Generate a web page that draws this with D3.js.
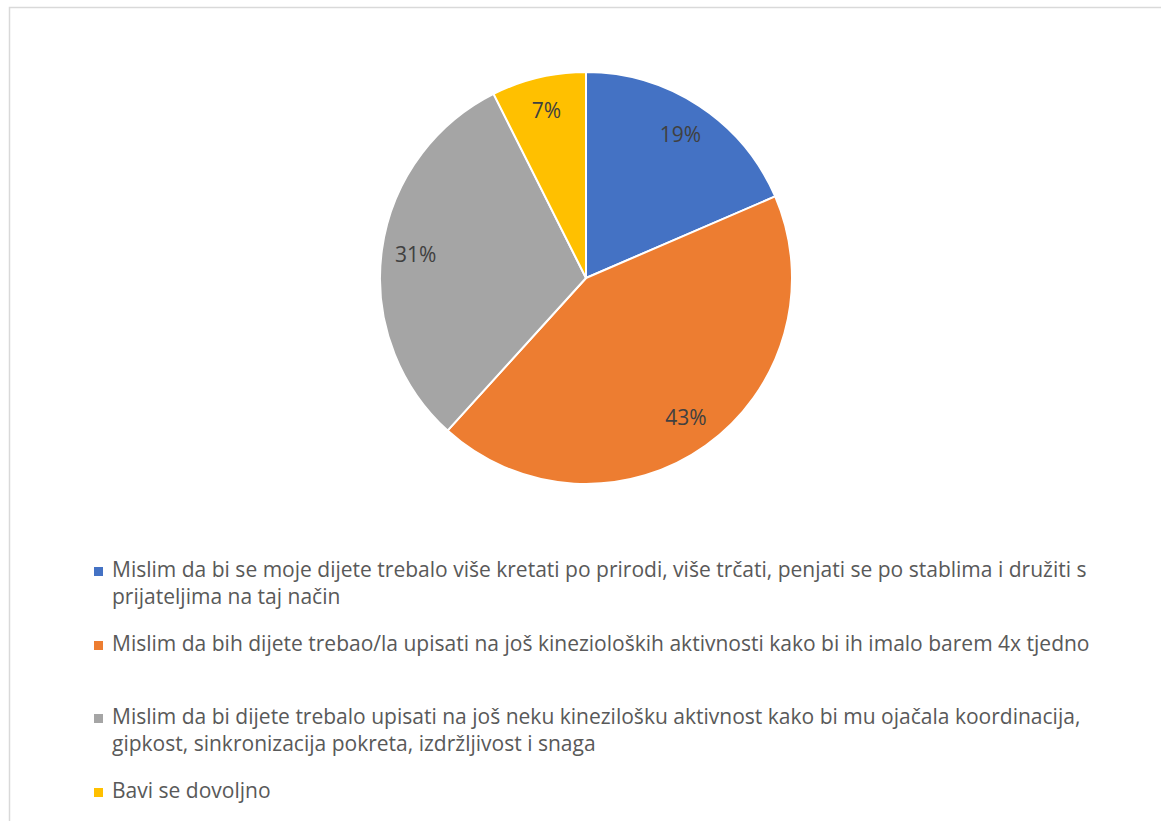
<!DOCTYPE html>
<html>
<head>
<meta charset="utf-8">
<script src="https://cdn.jsdelivr.net/npm/d3@7"></script>
<style>
  body { margin: 0; background: #fff; }
  text { font-family: "Open Sans", Lato, sans-serif; }
</style>
</head>
<body>
<div id="chart-area"></div>
<script>
// Data
// ****
const categories = [
  "Mislim da bi se moje dijete trebalo više kretati po prirodi, više trčati, penjati se po stablima i družiti s prijateljima na taj način",
  "Mislim da bih dijete trebao/la upisati na još kinezioloških aktivnosti kako bi ih imalo barem 4x tjedno",
  "Mislim da bi dijete trebalo upisati na još neku kinezilošku aktivnost kako bi mu ojačala koordinacija, gipkost, sinkronizacija pokreta, izdržljivost i snaga",
  "Bavi se dovoljno"
]
// legend rows as wrapped in the picture
const legendLines = [
  ["Mislim da bi se moje dijete trebalo više kretati po prirodi, više trčati, penjati se po stablima i družiti s", "prijateljima na taj način"],
  ["Mislim da bih dijete trebao/la upisati na još kinezioloških aktivnosti kako bi ih imalo barem 4x tjedno"],
  ["Mislim da bi dijete trebalo upisati na još neku kinezilošku aktivnost kako bi mu ojačala koordinacija,", "gipkost, sinkronizacija pokreta, izdržljivost i snaga"],
  ["Bavi se dovoljno"]
]
const values = [15, 35, 25, 6]
const colors = ["#4472c4", "#ed7d31", "#a5a5a5", "#ffc000"]

// Config
// ******
const width = 1161, height = 821
const cx = 586, cy = 278, radius = 206

const svg = d3.select("#chart-area")
  .append("svg")
    .attr("width", width)
    .attr("height", height)

// chart frame (runs off the right and bottom edges)
svg.append("rect")
  .attr("x", 9.5).attr("y", 7.5)
  .attr("width", width + 20).attr("height", height + 20)
  .attr("fill", "#fff")
  .attr("stroke", "#d9d9d9")
  .attr("stroke-width", 1.5)

const g = svg.append("g").attr("transform", "translate(" + cx + "," + cy + ")")

const pie = d3.pie().sort(null).value(d => d)
const arcs = pie(values)
const total = d3.sum(values)

const arc = d3.arc().innerRadius(0).outerRadius(radius)
const labelArc = d3.arc().innerRadius(172).outerRadius(172)

g.selectAll("path.slice")
  .data(arcs)
  .enter().append("path")
    .attr("class", "slice")
    .attr("d", arc)
    .attr("fill", (d, i) => colors[i])
    .attr("stroke", "#fff")
    .attr("stroke-width", 2)
    .attr("stroke-linejoin", "round")

g.selectAll("text.label")
  .data(arcs)
  .enter().append("text")
    .attr("class", "label")
    .attr("transform", d => "translate(" + labelArc.centroid(d) + ")")
    .attr("text-anchor", "middle")
    .attr("dy", "0.35em")
    .attr("font-size", "21px")
    .attr("fill", "#404040")
    .text(d => d3.format(".0%")(d.value / total))

// Legend
// ******
const baselines = [577, 651, 724, 798]
const lineGap = 27

const legend = svg.append("g").attr("font-size", "18px")
legendLines.forEach((lines, i) => {
  const row = legend.append("g").attr("transform", "translate(0," + baselines[i] + ")")
  row.append("rect")
    .attr("x", 94).attr("y", -10)
    .attr("width", 9).attr("height", 9)
    .attr("fill", colors[i])
  lines.forEach((line, j) => {
    row.append("text")
      .attr("x", 112)
      .attr("y", j * lineGap)
      .attr("fill", "#595959")
      .text(line)
  })
})

// fit legend font so the first line spans like the original (~975px)
const firstLen = legend.select("text").node().getComputedTextLength()
legend.attr("font-size", (18 * 975 / firstLen) + "px")
</script>
</body>
</html>
